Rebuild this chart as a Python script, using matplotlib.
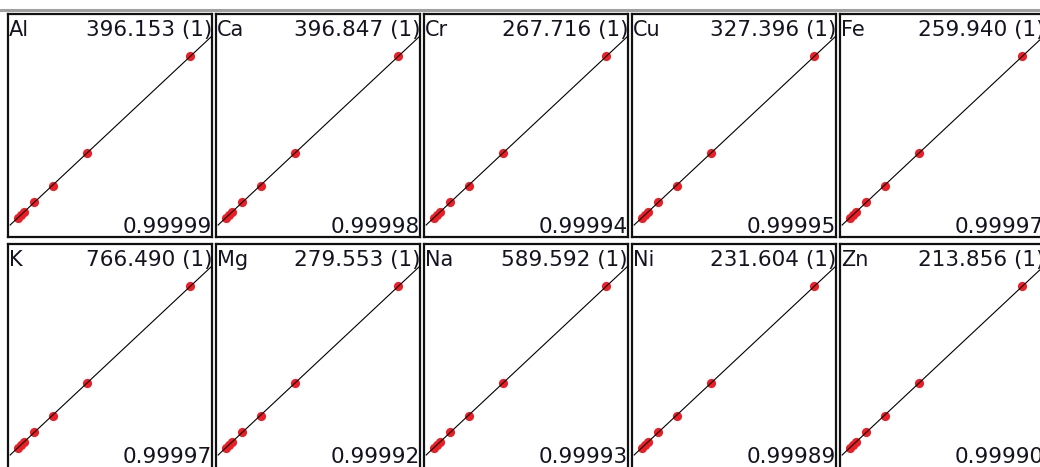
import matplotlib
matplotlib.use('Agg')
import matplotlib.pyplot as plt
from matplotlib.lines import Line2D

# Calibration panels, one per element
elements = ['Al', 'Ca', 'Cr', 'Cu', 'Fe', 'K', 'Mg', 'Na', 'Ni', 'Zn']
wavelengths = ['396.153', '396.847', '267.716', '327.396', '259.940',
               '766.490', '279.553', '589.592', '231.604', '213.856']
r_values = ['0.99999', '0.99998', '0.99994', '0.99995', '0.99997',
            '0.99997', '0.99992', '0.99993', '0.99989', '0.99990']

# Standards (concentration) and normalised intensities
std_conc = [0.35, 0.5, 0.65, 1.1, 2.0, 3.6, 8.4]
std_int = [0.35, 0.5, 0.65, 1.15, 1.95, 3.6, 8.45]
fit_x = [0.0, 9.5]

W, H = 1040, 467
fig = plt.figure(figsize=(W / 100, H / 100), dpi=100)
fig.patch.set_facecolor('white')

# grey strip at the very top
fig.add_artist(Line2D([0, 1], [1 - 10 / H, 1 - 10 / H], transform=fig.transFigure,
                      color='#a0a0a0', lw=2.2))

pw, ph = 204, 223
for k, el in enumerate(elements):
    row, col = divmod(k, 5)
    left = 8 + 208 * col
    top = 14 + 230 * row
    ax = fig.add_axes([left / W, 1 - (top + ph) / H, pw / W, ph / H])
    ax.plot(std_conc, std_int, 'o', color='#ee1c24', ms=6.6, mec='none', zorder=2)
    ax.plot(fit_x, fit_x, color='black', lw=0.8, zorder=3)
    ax.set_xlim(-0.1, 9.45)
    ax.set_ylim(-0.6, 10.55)
    ax.set_xticks([])
    ax.set_yticks([])
    for s in ax.spines.values():
        s.set_linewidth(1.6)
        s.set_color('#111111')
    if row == 1:
        # bottom row runs off the lower edge of the picture
        ax.spines['bottom'].set_visible(False)
    ax.text(0.005, 0.901, el, transform=ax.transAxes, ha='left', va='baseline',
            fontsize=15, color='#141420')
    ax.text(1.0, 0.901, wavelengths[k] + ' (1)', transform=ax.transAxes,
            ha='right', va='baseline', fontsize=15.5, color='#141420')
    ax.text(1.0, 0.018, r_values[k], transform=ax.transAxes,
            ha='right', va='baseline', fontsize=15.5, color='#141420')

fig.savefig('out.png', dpi=100, facecolor='white')
